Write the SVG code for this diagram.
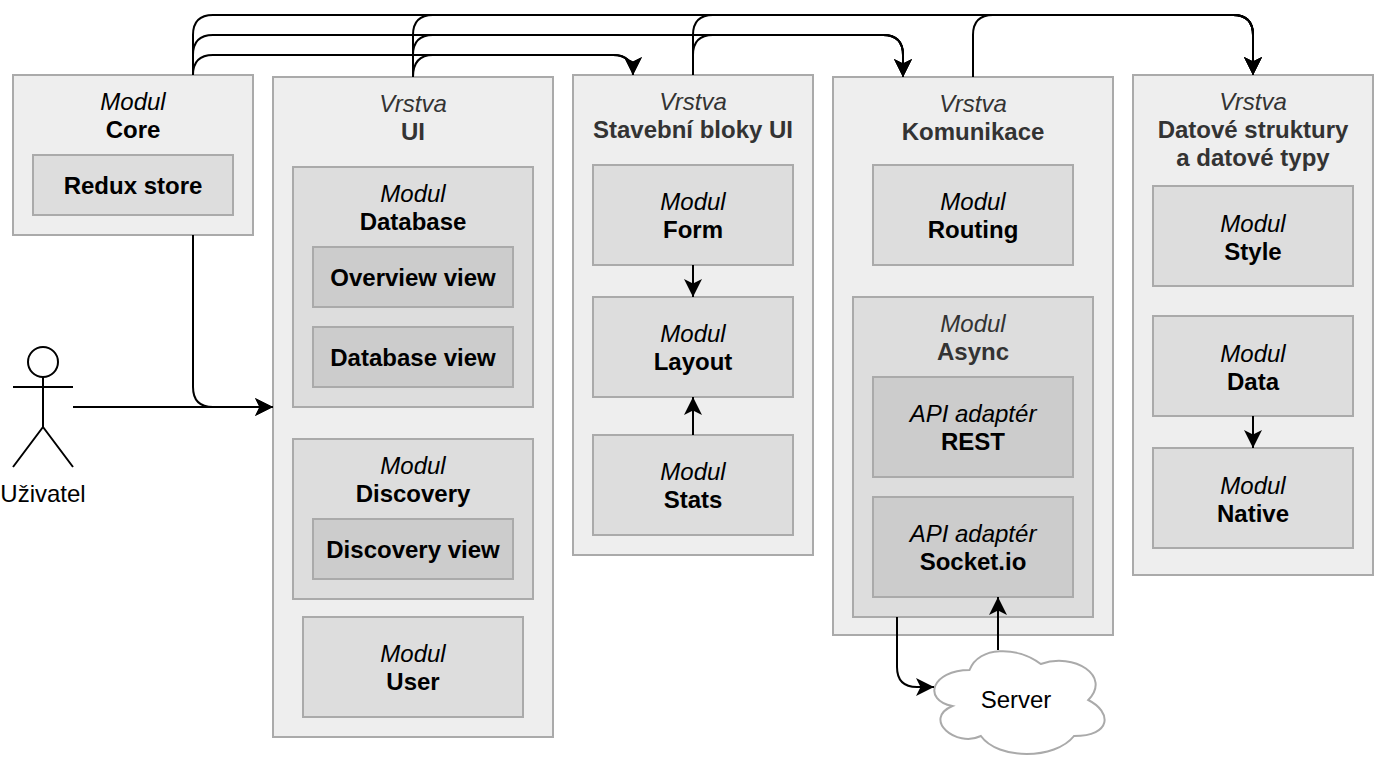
<svg xmlns="http://www.w3.org/2000/svg" width="1376" height="762" viewBox="0 0 1376 762">
<style>
text{font-family:"Liberation Sans",Arial,sans-serif;font-size:24px;text-anchor:middle;fill:#000}
.i{font-style:italic}.b{font-weight:bold}.g{fill:#333}
.l1{fill:#eeeeee;stroke:#aaaaaa;stroke-width:2}
.l2{fill:#dddddd;stroke:#aaaaaa;stroke-width:2}
.l3{fill:#cccccc;stroke:#aaaaaa;stroke-width:2}
.e{fill:none;stroke:#000;stroke-width:2;marker-end:url(#a)}
.s{fill:none;stroke:#000;stroke-width:2}
</style>
<defs><marker id="a" markerUnits="userSpaceOnUse" viewBox="0 0 18 18" markerWidth="18" markerHeight="18" refX="18" refY="9" orient="auto"><path d="M18 9L0 0L4.5 9L0 18Z" fill="#000"/></marker></defs>

<g id="core"><rect class="l1" x="13" y="75" width="240" height="160"/><text class="i" x="133" y="110">Modul</text><text class="b" x="133" y="138">Core</text></g>
<g id="redux"><rect class="l2" x="33" y="155" width="200" height="60"/><text class="b" x="133" y="194">Redux store</text></g>

<g id="ui"><rect class="l1" x="273" y="77" width="280" height="660"/><text class="i g" x="413" y="112">Vrstva</text><text class="b g" x="413" y="140">UI</text></g>
<g id="database"><rect class="l2" x="293" y="167" width="240" height="240"/><text class="i" x="413" y="202">Modul</text><text class="b" x="413" y="230">Database</text></g>
<g id="overview"><rect class="l3" x="313" y="247" width="200" height="60"/><text class="b" x="413" y="286">Overview view</text></g>
<g id="dbview"><rect class="l3" x="313" y="327" width="200" height="60"/><text class="b" x="413" y="366">Database view</text></g>
<g id="discovery"><rect class="l2" x="293" y="439" width="240" height="160"/><text class="i" x="413" y="474">Modul</text><text class="b" x="413" y="502">Discovery</text></g>
<g id="discoveryview"><rect class="l3" x="313" y="519" width="200" height="60"/><text class="b" x="413" y="558">Discovery view</text></g>
<g id="user"><rect class="l2" x="303" y="617" width="220" height="100"/><text class="i" x="413" y="662">Modul</text><text class="b" x="413" y="690">User</text></g>

<g id="blocks"><rect class="l1" x="573" y="75" width="240" height="480"/><text class="i g" x="693" y="110">Vrstva</text><text class="b g" x="693" y="138">Stavební bloky UI</text></g>
<g id="form"><rect class="l2" x="593" y="165" width="200" height="100"/><text class="i" x="693" y="210">Modul</text><text class="b" x="693" y="238">Form</text></g>
<g id="layout"><rect class="l2" x="593" y="297" width="200" height="100"/><text class="i" x="693" y="342">Modul</text><text class="b" x="693" y="370">Layout</text></g>
<g id="stats"><rect class="l2" x="593" y="435" width="200" height="100"/><text class="i" x="693" y="480">Modul</text><text class="b" x="693" y="508">Stats</text></g>

<g id="comm"><rect class="l1" x="833" y="77" width="280" height="558"/><text class="i g" x="973" y="112">Vrstva</text><text class="b g" x="973" y="140">Komunikace</text></g>
<g id="routing"><rect class="l2" x="873" y="165" width="200" height="100"/><text class="i" x="973" y="210">Modul</text><text class="b" x="973" y="238">Routing</text></g>
<g id="async"><rect class="l2" x="853" y="297" width="240" height="320"/><text class="i g" x="973" y="332">Modul</text><text class="b g" x="973" y="360">Async</text></g>
<g id="rest"><rect class="l3" x="873" y="377" width="200" height="100"/><text class="i" x="973" y="422">API adaptér</text><text class="b" x="973" y="450">REST</text></g>
<g id="socket"><rect class="l3" x="873" y="497" width="200" height="100"/><text class="i" x="973" y="542">API adaptér</text><text class="b" x="973" y="570">Socket.io</text></g>

<g id="data-layer"><rect class="l1" x="1133" y="75" width="240" height="500"/><text class="i g" x="1253" y="110">Vrstva</text><text class="b g" x="1253" y="138">Datové struktury</text><text class="b g" x="1253" y="166">a datové typy</text></g>
<g id="style"><rect class="l2" x="1153" y="186" width="200" height="100"/><text class="i" x="1253" y="232">Modul</text><text class="b" x="1253" y="260">Style</text></g>
<g id="data"><rect class="l2" x="1153" y="316" width="200" height="100"/><text class="i" x="1253" y="362">Modul</text><text class="b" x="1253" y="390">Data</text></g>
<g id="native"><rect class="l2" x="1153" y="448" width="200" height="100"/><text class="i" x="1253" y="494">Modul</text><text class="b" x="1253" y="522">Native</text></g>

<g id="actor"><circle class="s" cx="43" cy="362" r="15"/><path class="s" d="M43 377V427M13 387H73M43 427L13 467M43 427L73 467"/><text x="43" y="502">Uživatel</text></g>

<g id="server"><path d="M969.5 670C931.5 670 922 700 952.4 706C922 719.2 956.2 748 980.9 736C998 760 1055 760 1074 736C1112 736 1112 712 1088.25 700C1112 676 1074 652 1040.75 664C1017 646 979 646 969.5 670Z" fill="#fff" stroke="#aaaaaa" stroke-width="2"/><text x="1016" y="708">Server</text></g>

<g id="connectors">
<path class="e" d="M193 75Q193 55 213 55H613Q633 55 633 75"/>
<path class="e" d="M413 77Q413 55 433 55H613Q633 55 633 75"/>
<path class="e" d="M193 75V55Q193 35 213 35H883Q903 35 903 55V77"/>
<path class="e" d="M413 77V55Q413 35 433 35H883Q903 35 903 55V77"/>
<path class="e" d="M693 75V55Q693 35 713 35H883Q903 35 903 55V77"/>
<path class="e" d="M193 75V35Q193 15 213 15H1233Q1253 15 1253 35V75"/>
<path class="e" d="M413 77V35Q413 15 433 15H1233Q1253 15 1253 35V75"/>
<path class="e" d="M693 75V35Q693 15 713 15H1233Q1253 15 1253 35V75"/>
<path class="e" d="M973 77V35Q973 15 993 15H1233Q1253 15 1253 35V75"/>
<path class="e" d="M193 235V387Q193 407 213 407H273"/>
<path class="e" d="M73 407H273"/>
<path class="e" d="M693 265V297"/>
<path class="e" d="M693 435V397"/>
<path class="e" d="M1253 416V448"/>
<path class="e" d="M897 617V667Q897 687 917 687H934"/>
<path class="e" d="M998 650V597"/>
</g>
</svg>
